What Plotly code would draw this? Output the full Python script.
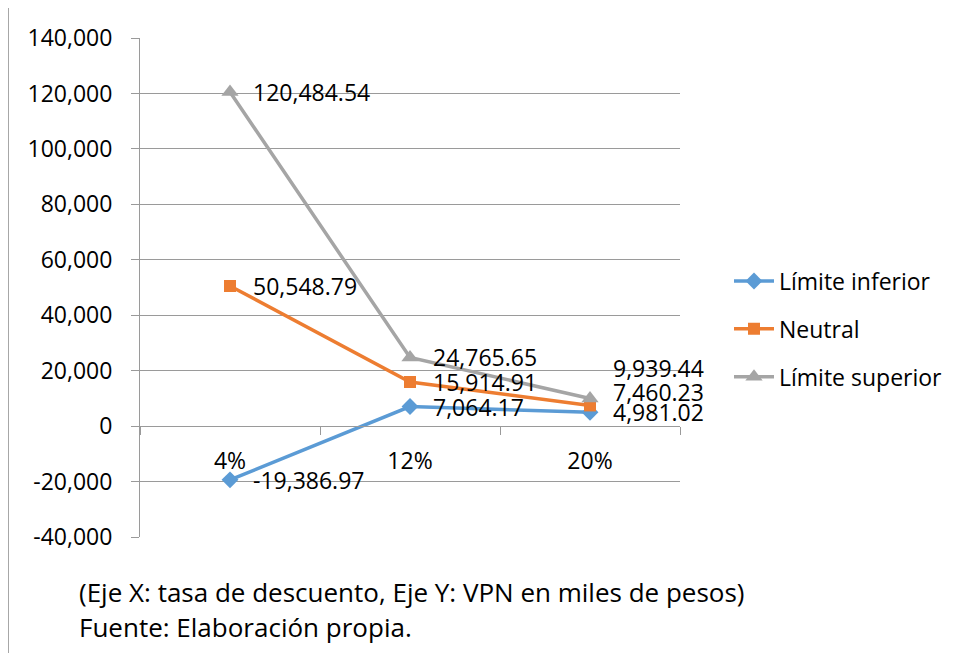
import plotly.graph_objects as go

# data
tasas = ["4%", "12%", "20%"]
limite_inferior = [-19386.97, 7064.17, 4981.02]
neutral = [50548.79, 15914.91, 7460.23]
limite_superior = [120484.54, 24765.65, 9939.44]
y_ticks = [-40000, -20000, 0, 20000, 40000, 60000, 80000, 100000, 120000, 140000]

nota_ejes = "(Eje X: tasa de descuento, Eje Y: VPN en miles de pesos)"
nota_fuente = "Fuente: Elaboración propia."

W, H = 957, 653
OFF = 8  # page body margin in the screenshot
L, T = 140 - OFF, 38 - OFF
R, B = W - (680 - OFF), H - (537 - OFF)
FONT = "Open Sans"
GRID = "#9a9a9a"


def paper_x(px):
    # screen pixel -> paper coordinate
    return (px - OFF - L) / (W - L - R)


def paper_y(py):
    return 1 - (py - OFF - T) / (H - T - B)


series = [
    ("Límite inferior", limite_inferior, "#5B9BD5", "diamond", 13, [0, 0, 0]),
    ("Neutral", neutral, "#ED7D31", "square", 12, [0, 0, 13]),
    ("Límite superior", limite_superior, "#A5A5A5", "triangle-up", 15, [0, 0, 31]),
]

fig = go.Figure()
annotations = []
for i, (name, vals, color, symbol, size, yshifts) in enumerate(series):
    fig.add_trace(go.Scatter(
        x=tasas, y=vals, name=name, mode="lines+markers",
        legendgroup=str(i),
        line=dict(color=color, width=3.5),
        marker=dict(symbol=symbol, size=size, color=color)))
    # data labels to the right of each point
    for cat, v, ys in zip(tasas, vals, yshifts):
        annotations.append(dict(
            x=cat, y=v, xref="x", yref="y", text=f"{v:,.2f}",
            showarrow=False, xanchor="left", yanchor="middle",
            xshift=21, yshift=ys, font=dict(size=23, color="black")))

annotations.append(dict(x=paper_x(77), y=paper_y(592), xref="paper", yref="paper",
                        text=nota_ejes, showarrow=False, xanchor="left",
                        yanchor="middle", font=dict(size=26, color="black")))
annotations.append(dict(x=paper_x(77), y=paper_y(627), xref="paper", yref="paper",
                        text=nota_fuente, showarrow=False, xanchor="left",
                        yanchor="middle", font=dict(size=26, color="black")))

# zero position of the y axis, where the category axis sits
zero_pos = (0 - y_ticks[0]) / (y_ticks[-1] - y_ticks[0])

fig.update_layout(
    width=W, height=H,
    margin=dict(l=L, r=R, t=T, b=B),
    paper_bgcolor="white", plot_bgcolor="white",
    font=dict(family=FONT, size=23, color="black"),
    annotations=annotations,
    legend=dict(x=paper_x(729), y=paper_y(329), xanchor="left", yanchor="middle",
                tracegroupgap=15, font=dict(size=23), itemwidth=40,
                traceorder="grouped"),
    shapes=[
        dict(type="line", xref="paper", yref="paper",
             x0=paper_x(8), x1=paper_x(W + 10), y0=paper_y(5), y1=paper_y(5),
             line=dict(color="#8a8a8a", width=1.5)),
        dict(type="line", xref="paper", yref="paper",
             x0=paper_x(8), x1=paper_x(8), y0=paper_y(5), y1=paper_y(H + 10),
             line=dict(color="#8a8a8a", width=1.5)),
    ],
)

fig.update_xaxes(
    type="category", range=[-0.5, len(tasas) - 0.5],
    anchor="free", position=zero_pos,
    showline=True, linecolor=GRID, linewidth=1,
    ticks="outside", ticklen=8, tickcolor=GRID, tickson="boundaries",
    ticklabelstandoff=14, showgrid=False, zeroline=False,
    tickfont=dict(size=23))

fig.update_yaxes(
    range=[y_ticks[0], y_ticks[-1]], tickvals=y_ticks,
    ticktext=[f"{v:,}" for v in y_ticks],
    showline=True, linecolor=GRID, linewidth=1,
    ticks="outside", ticklen=8, tickcolor=GRID,
    showgrid=True, gridcolor=GRID, gridwidth=1, zeroline=False,
    ticklabelstandoff=14, tickfont=dict(size=23))

fig.write_html("out.html")
